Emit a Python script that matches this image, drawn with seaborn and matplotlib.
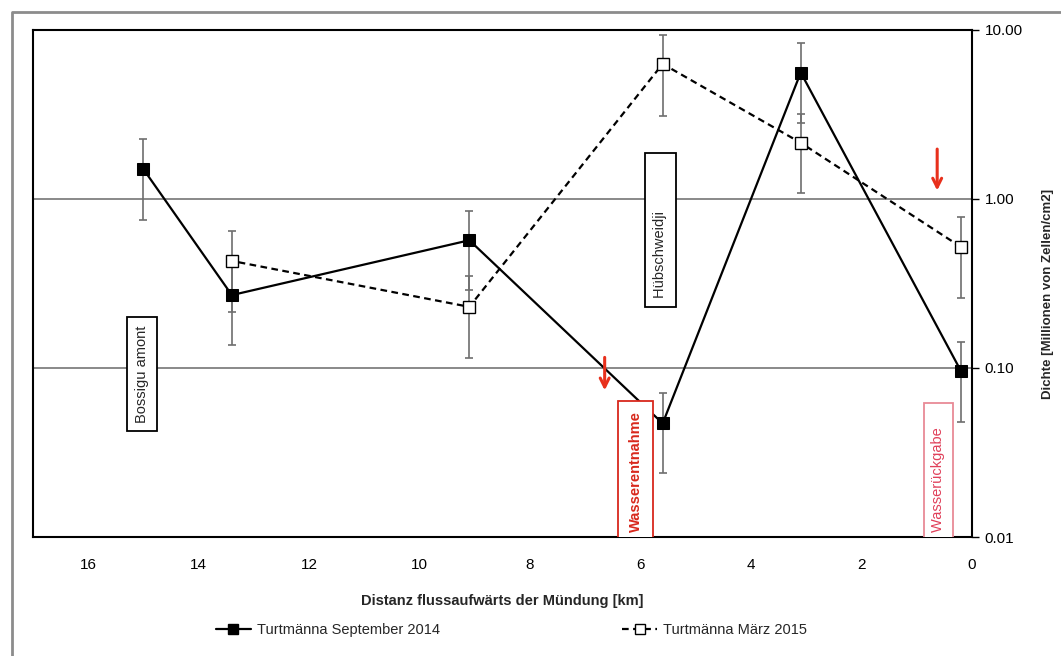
import matplotlib
matplotlib.use("Agg")
import matplotlib.pyplot as plt
from matplotlib.lines import Line2D
import seaborn as sns
import pandas as pd

# Turtmänna September 2014 (filled squares, solid line)
sep_km = [15.0, 13.4, 9.1, 5.6, 3.1, 0.2]
sep_val = [1.5, 0.27, 0.57, 0.047, 5.6, 0.096]
sep_lo = [0.75, 0.136, 0.29, 0.024, 2.8, 0.048]
sep_hi = [2.25, 0.40, 0.85, 0.071, 8.4, 0.143]

# Turtmänna März 2015 (open squares, dashed line)
mar_km = [13.4, 9.1, 5.6, 3.1, 0.2]
mar_val = [0.43, 0.23, 6.3, 2.15, 0.52]
mar_lo = [0.215, 0.115, 3.1, 1.08, 0.26]
mar_hi = [0.645, 0.35, 9.4, 3.2, 0.78]

x_ticks = [16, 14, 12, 10, 8, 6, 4, 2, 0]
y_ticks = [0.01, 0.1, 1, 10]

sns.set_style("white")
plt.rcParams["font.family"] = ["Liberation Sans Narrow", "Liberation Sans", "DejaVu Sans"]

df_sep = pd.DataFrame({"km": sep_km, "dichte": sep_val})
df_mar = pd.DataFrame({"km": mar_km, "dichte": mar_val})

fig = plt.figure(figsize=(10.61, 6.56), dpi=100)
ax = fig.add_axes([0.0311, 0.1814, 0.885, 0.7729])

# outer frame of the original chart object
fig.add_artist(Line2D([0.012, 1.0], [0.982, 0.982], color="#8c8c8c", lw=2, transform=fig.transFigure))
fig.add_artist(Line2D([0.011, 0.011], [0.0, 0.982], color="#8c8c8c", lw=2, transform=fig.transFigure))

# horizontal grid lines at 1 and 0.1
for g in [1, 0.1]:
    ax.axhline(g, color="#808080", lw=1.3, zorder=1)

# error bars
ax.errorbar(sep_km, sep_val,
            yerr=[[v - l for v, l in zip(sep_val, sep_lo)], [h - v for v, h in zip(sep_val, sep_hi)]],
            fmt="none", ecolor="#6e6e6e", elinewidth=1.2, capsize=3, capthick=1.2, zorder=2)
ax.errorbar(mar_km, mar_val,
            yerr=[[v - l for v, l in zip(mar_val, mar_lo)], [h - v for v, h in zip(mar_val, mar_hi)]],
            fmt="none", ecolor="#6e6e6e", elinewidth=1.2, capsize=3, capthick=1.2, zorder=2)

sns.lineplot(data=df_sep, x="km", y="dichte", ax=ax, color="black", lw=1.6,
             marker="s", markersize=8, markerfacecolor="black", markeredgecolor="black",
             zorder=4, label="Turtmänna September 2014", legend=False)
sns.lineplot(data=df_mar, x="km", y="dichte", ax=ax, color="black", lw=1.6,
             linestyle=(0, (3, 2)), marker="s", markersize=8, markerfacecolor="white",
             markeredgecolor="black", markeredgewidth=1.0,
             zorder=4, label="Turtmänna März 2015", legend=False)

ax.set_yscale("log")
ax.set_ylim(0.01, 10)
ax.set_xlim(17, 0)
ax.set_xticks(x_ticks)
ax.set_xticklabels([str(t) for t in x_ticks])
ax.set_yticks(y_ticks)
ax.set_yticklabels([f"{t:.2f}" for t in y_ticks])
ax.minorticks_off()
ax.yaxis.tick_right()
ax.yaxis.set_label_position("right")
ax.tick_params(axis="both", direction="out", length=5, width=1, labelsize=11, colors="black")
ax.tick_params(axis="x", pad=10)
ax.tick_params(axis="y", pad=4)
for s in ax.spines.values():
    s.set_color("black")
    s.set_linewidth(1.5)

ax.set_xlabel("Distanz flussaufwärts der Mündung [km]", fontsize=10.5, fontweight="bold")
ax.xaxis.set_label_coords(0.5, -0.112)
ax.set_ylabel("Dichte [Millionen von Zellen/cm2]", fontsize=9.5, fontweight="bold",
              rotation=90)
ax.yaxis.set_label_coords(1.075, 0.48)

# site labels
ax.text(15.03, 0.092, "Bossigu amont", rotation=90, ha="center", va="center",
        fontsize=10.5, bbox=dict(boxstyle="square,pad=0.55", facecolor="white",
                                 edgecolor="black", lw=1.3), zorder=5)
ax.text(5.64, 0.26, "Hübschweidji" + " " * 12, rotation=90, ha="center", va="bottom",
        fontsize=10.5, bbox=dict(boxstyle="square,pad=0.6", facecolor="white",
                                 edgecolor="black", lw=1.3), zorder=5)
ax.text(6.09, 0.0107, "Wasserentnahme", rotation=90, ha="center", va="bottom",
        fontsize=10.5, fontweight="bold", color="#d8281c", clip_on=True,
        bbox=dict(boxstyle="square,pad=0.7", facecolor="white", edgecolor="#d8281c", lw=1.3),
        zorder=5)
ax.text(0.61, 0.0107, "Wasserückgabe" + " " * 4, rotation=90, ha="center", va="bottom",
        fontsize=10.5, color="#e0405a", clip_on=True,
        bbox=dict(boxstyle="square,pad=0.5", facecolor="white", edgecolor="#e88a96", lw=1.3),
        zorder=5)

# red arrows
arrow = dict(arrowstyle="->", color="#e8301c", lw=2.2, mutation_scale=16)
ax.annotate("", xy=(6.65, 0.071), xytext=(6.65, 0.12), arrowprops=arrow, zorder=6)
ax.annotate("", xy=(0.63, 1.08), xytext=(0.63, 2.05), arrowprops=arrow, zorder=6)

handles = [
    Line2D([], [], color="black", lw=1.6, marker="s", markersize=7,
           markerfacecolor="black"),
    Line2D([], [], color="black", lw=1.6, linestyle=(0, (3, 2)), marker="s", markersize=7,
           markerfacecolor="white"),
]
fig.legend(handles, ["Turtmänna September 2014", "Turtmänna März 2015"],
           loc="center", bbox_to_anchor=(0.482, 0.04), ncol=2, frameon=False,
           fontsize=10.5, columnspacing=12.5, handlelength=2.4, handletextpad=0.4)

fig.savefig("out.png", dpi=100)
